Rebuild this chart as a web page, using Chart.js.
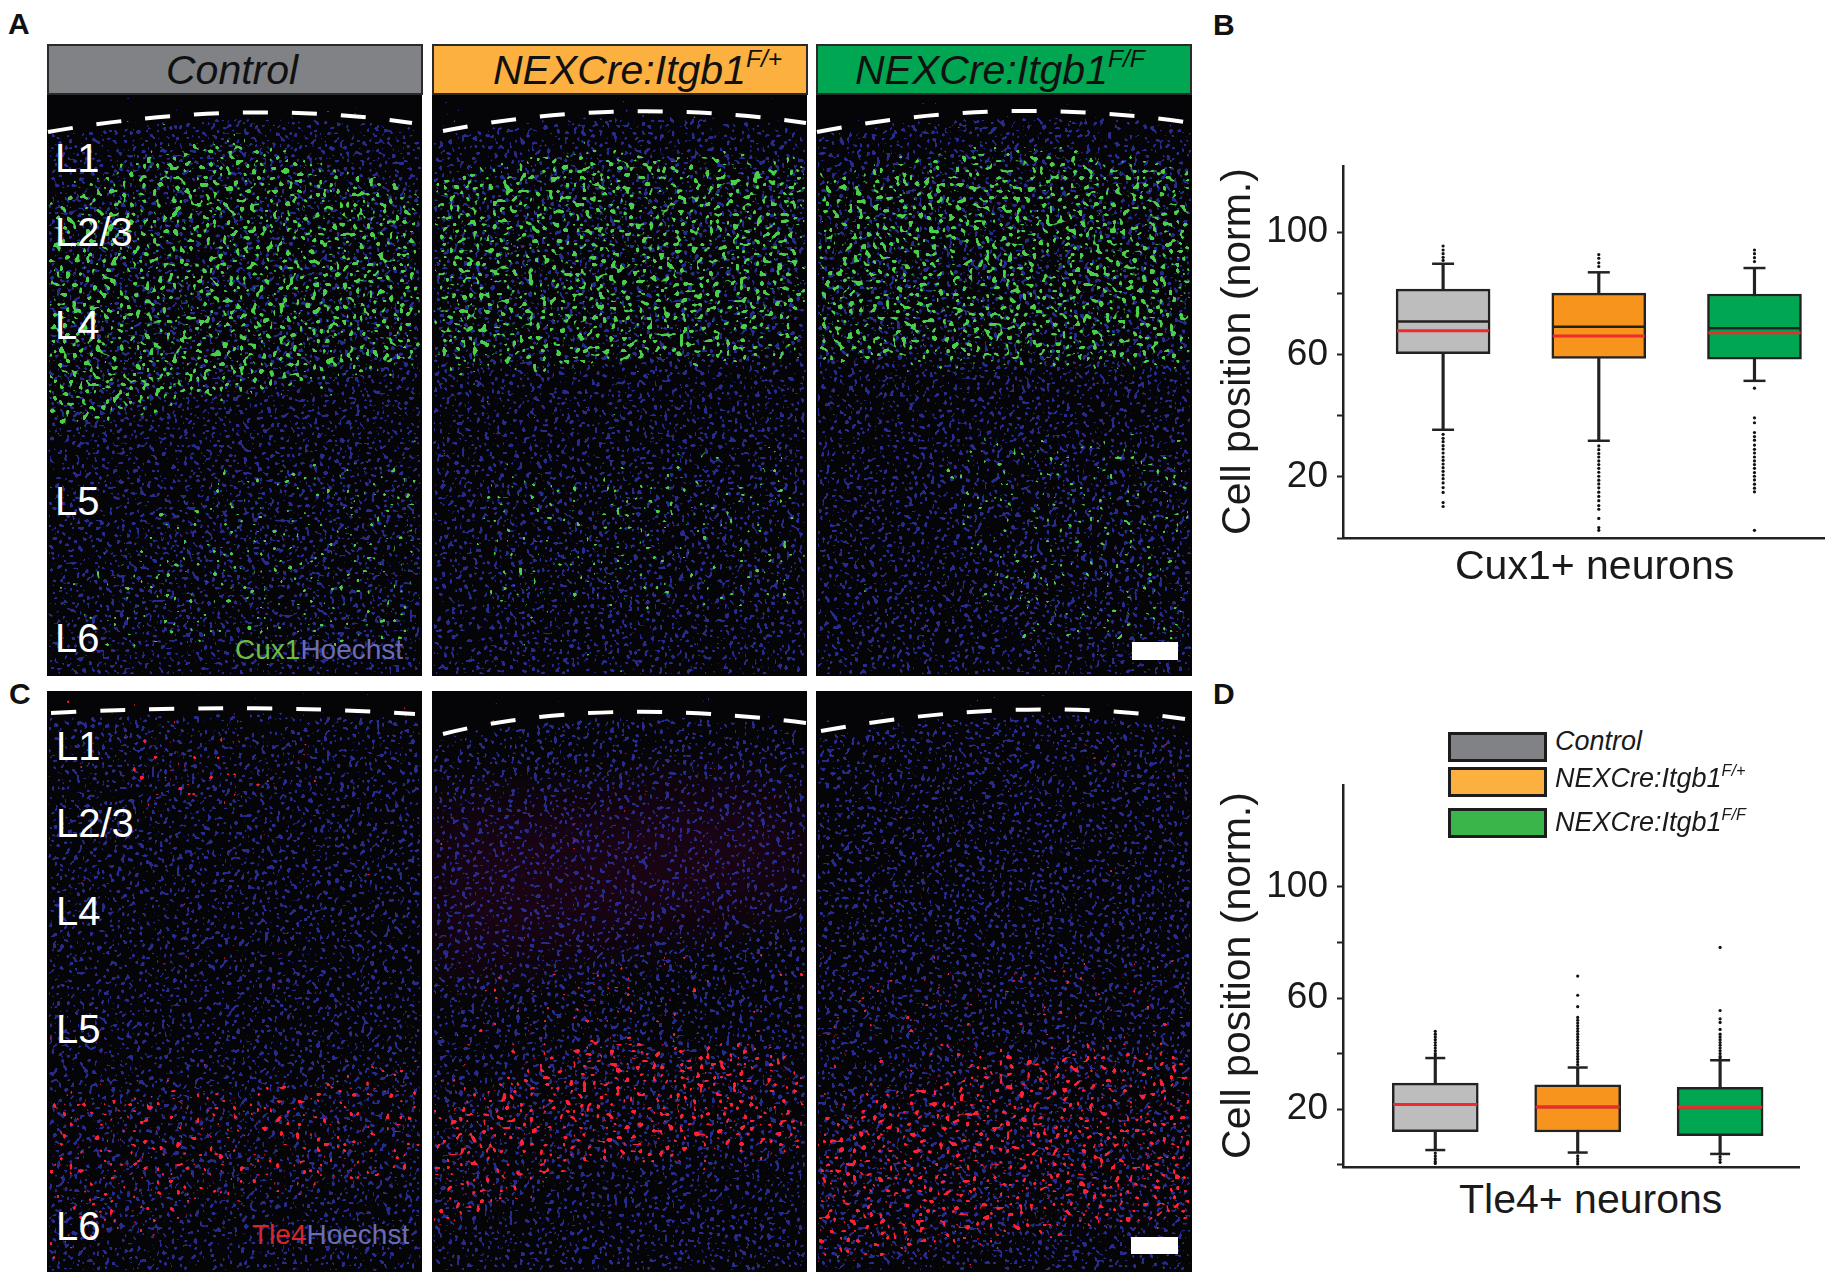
<!DOCTYPE html>
<html>
<head>
<meta charset="utf-8">
<script src="https://cdn.jsdelivr.net/npm/chart.js@4"></script>
<style>
  html, body { margin: 0; background: #fff; }
  body { position: relative; width: 1831px; height: 1279px; overflow: hidden; font-family: "Liberation Sans", Arial, sans-serif; color: #1a1a1a; }
  .abs { position: absolute; white-space: nowrap; line-height: 1; }
  .letter { font-size: 30px; font-weight: bold; color: #111; }
  .head { position: absolute; box-sizing: border-box; top: 44px; height: 51px; width: 376px; border: 2.5px solid #2a2a2a; }
  .headtext { font-size: 41px; font-style: italic; color: #111; }
  .headtext sup, .leg sup { font-size: 60%; line-height: 0; vertical-align: baseline; position: relative; top: -0.69em; }
  .layer { font-size: 40px; color: #fff; }
  .stain { font-size: 28px; }
  .xname { font-size: 41px; color: #1a1a1a; }
  .leg { font-size: 27px; font-style: italic; color: #1a1a1a; }
  .swatch { position: absolute; box-sizing: border-box; left: 1448px; width: 99px; height: 30px; border: 3px solid #1c1c1c; }
  svg.mg { position: absolute; display: block; }
  canvas { position: absolute; }
</style>
</head>
<body>
<canvas id="chartB" width="625" height="380" style="left:1200px;top:165px"></canvas>
<canvas id="chartD" width="600" height="390" style="left:1200px;top:784px"></canvas>
<script>
const categories = ["Control", "NEXCre:Itgb1 F/+", "NEXCre:Itgb1 F/F"];
const groupPos = [1, 2, 3];
const yTicks = [0, 20, 40, 60, 80, 100];
const yTickLabels = ["", "20", "", "60", "", "100"];

const cuxQ1 = [60.3, 58.7, 58.5];
const cuxQ3 = [81.4, 80.1, 79.8];
const cuxMedian = [70.8, 69.1, 68.6];
const cuxMean = [67.8, 66.1, 67.1];
const cuxWhiskerLow = [35.4, 31.8, 51.4];
const cuxWhiskerHigh = [89.7, 86.9, 88.3];
const cuxOutliers = [
  [95.5, 94.2, 93, 91.8, 90.8, 33.9, 32.6, 31.5, 30.2, 29.1, 27.8, 26.5, 25.4, 24.2, 23, 21.8, 20.6, 19.4, 18, 16.5, 14.9, 11.6, 10.3],
  [92.7, 91.5, 90, 88.8, 30.1, 28.9, 27.6, 26.5, 25.2, 24, 22.8, 21.5, 20.2, 18.9, 17.7, 16.4, 15, 13.6, 12.2, 10.6, 9.4, 6.4, 3.4, 2.5],
  [94.2, 93, 91.7, 90.4, 49, 39.3, 37.7, 34.5, 33.2, 32, 30.4, 29, 27.8, 26.5, 25.2, 24, 22.8, 21.4, 20.2, 19, 17.6, 16.3, 15.1, 2.5]
];

const tleQ1 = [11.9, 11.8, 10.5];
const tleQ3 = [29.4, 28.8, 27.9];
const tleMedian = [21.7, 20.8, 20.7];
const tleMean = [21.7, 20.8, 20.7];
const tleWhiskerLow = [5.3, 4.4, 3.9];
const tleWhiskerHigh = [38.4, 35, 37.6];
const tleOutliers = [
  [48, 47, 46, 45, 44, 43, 42, 41, 40, 39.2, 4.2, 3.2, 2.2, 1.2, 0.5],
  [67.9, 61, 56.9, 53, 52, 51, 50, 49, 48, 47, 46, 45, 44, 43, 42, 41, 40, 39, 38, 37, 36, 3.2, 2.2, 1.2, 0.3],
  [78.2, 55.5, 52.5, 51.2, 48.7, 47, 46, 45, 44, 43, 42, 41, 40, 39, 38.4, 2.9, 1.9, 0.9]
];

const groupFill = ["#bdbdbd", "#f7941e", "#00a651"];
const inkColor = "#222222";

function boxChart(id, cfg) {
  const outlierPoints = cfg.outliers.flatMap((vals, i) => vals.map(v => ({ x: groupPos[i], y: v })));
  const marks = (vals) => vals.map((v, i) => ({ x: groupPos[i], y: v }));
  const spans = (lo, hi) => lo.map((v, i) => ({ x: groupPos[i], y: [v, hi[i]] }));
  const tick = (data, radius, color, width, order) => ({
    type: "line", showLine: false, data: data, order: order,
    pointStyle: "line", pointRadius: radius, pointHoverRadius: radius,
    pointBorderColor: color, pointBorderWidth: width
  });
  return new Chart(document.getElementById(id), {
    data: {
      datasets: [
        { type: "bar", data: spans(cfg.q1, cfg.q3), order: 4, grouped: false, barThickness: cfg.boxWidth,
          backgroundColor: groupFill, borderColor: inkColor, borderWidth: 2.5, borderSkipped: false },
        { type: "bar", data: spans(cfg.low, cfg.high), order: 5, grouped: false, barThickness: 2.5,
          backgroundColor: inkColor },
        tick(marks(cfg.high), cfg.capSize, inkColor, 2.5, 3),
        tick(marks(cfg.low), cfg.capSize, inkColor, 2.5, 3),
        tick(marks(cfg.median), cfg.boxWidth / 2 - 1, inkColor, 2.5, 2),
        tick(marks(cfg.mean), cfg.boxWidth / 2 - 1, "#ee2a2e", 3, 1),
        { type: "line", showLine: false, data: outlierPoints, order: 6,
          pointRadius: 1.6, pointBackgroundColor: "#111", pointBorderWidth: 0 }
      ]
    },
    options: {
      responsive: false,
      animation: false,
      clip: false,
      layout: { autoPadding: false, padding: { top: 0, bottom: cfg.bottomPad, left: 0, right: 0 } },
      plugins: { legend: { display: false }, tooltip: { enabled: false } },
      scales: {
        x: {
          type: "linear", min: cfg.xMin, max: cfg.xMax, offset: false,
          grid: { display: false },
          ticks: { display: false },
          border: { display: true, width: 2.5, color: inkColor },
          afterFit: (s) => { s.height = 2; }
        },
        y: {
          type: "linear", min: cfg.yMin, max: cfg.yMax,
          afterBuildTicks: (s) => { s.ticks = yTicks.map(v => ({ value: v })); },
          grid: { drawOnChartArea: false, tickLength: 6, tickColor: inkColor, tickWidth: 2 },
          border: { display: true, width: 2.5, color: inkColor },
          ticks: {
            autoSkip: false, padding: 9, color: "#1a1a1a",
            font: { family: "Liberation Sans", size: 37 },
            callback: (value, index) => yTickLabels[index]
          },
          title: {
            display: true, text: "Cell position (norm.)", color: "#1a1a1a",
            font: { family: "Liberation Sans", size: 41 },
            padding: { top: 14, bottom: 0 }
          },
          // keep the plot box where the figure has it: no room reserved for half a tick label
          afterFit: (s) => { s.width = 143; s.paddingTop = 0; s.paddingBottom = 0; }
        }
      }
    }
  });
}

boxChart("chartB", {
  q1: cuxQ1, q3: cuxQ3, median: cuxMedian, mean: cuxMean, low: cuxWhiskerLow, high: cuxWhiskerHigh, outliers: cuxOutliers,
  boxWidth: 94, capSize: 11, xMin: 0.357, xMax: 3.453, yMin: 0, yMax: 122, bottomPad: 5
});
boxChart("chartD", {
  q1: tleQ1, q3: tleQ3, median: tleMedian, mean: tleMean, low: tleWhiskerLow, high: tleWhiskerHigh, outliers: tleOutliers,
  boxWidth: 86, capSize: 10, xMin: 0.352, xMax: 3.561, yMin: -0.8, yMax: 137, bottomPad: 5
});

// page furniture: headers, labels, legend
const columns = [47, 432, 816];
const headColors = ["#808285", "#fbb040", "#00a651"];
const headTextX = [166, 493, 855];
const legendColors = ["#808285", "#fbb040", "#39b54a"];
const legendTop = [732, 767, 808];
const geno = (sup) => `NEXCre:Itgb1<sup>${sup}</sup>`;
const headText = ["Control", geno("F/+"), geno("F/F")];

function addText(cls, html, left, baseline, size, extra) {
  const el = document.createElement("div");
  el.className = "abs " + cls;
  el.innerHTML = html;
  el.style.left = left + "px";
  el.style.top = (baseline - size * 0.855) + "px";
  if (extra) el.style.cssText += extra;
  document.body.appendChild(el);
}

columns.forEach((x, i) => {
  const h = document.createElement("div");
  h.className = "head";
  h.style.left = x + "px";
  h.style.background = headColors[i];
  document.body.appendChild(h);
  addText("headtext", headText[i], headTextX[i], 85, 41);
});

// micrographs: speckle is a picture texture, thresholded noise over a hand-drawn density map
const hoechstBlue = "#262b8c";
const panels = [
  { x: 47, y: 95, w: 375, h: 581, seed: 3, arc: [48, 132, 241, 98, 412, 123],
    green: [[0.95, "47,200 150,150 240,135 330,165 422,185 422,372 300,385 150,410 47,440"],
            [0.48, "210,470 422,445 422,650 100,650 47,580"]] },
  { x: 432, y: 95, w: 375, h: 581, seed: 11, arc: [443, 131, 619, 96, 806, 123],
    green: [[0.95, "432,180 560,150 807,155 807,360 650,365 432,375"],
            [0.48, "480,470 807,440 807,610 480,610"]] },
  { x: 816, y: 95, w: 376, h: 581, seed: 23, arc: [817, 132, 1004, 95, 1191, 123],
    green: [[0.95, "816,175 1000,145 1192,165 1192,368 1000,365 816,365"],
            [0.48, "920,440 1192,430 1192,650 1000,650"]] },
  { x: 47, y: 691, w: 375, h: 581, seed: 31, arc: [51, 713, 245, 703, 415, 714],
    red: [[0.4, "100,730 300,725 320,810 130,810"],
          [0.65, "47,1086 234,1086 422,1051 422,1180 234,1203 47,1261"]] },
  { x: 432, y: 691, w: 375, h: 581, seed: 43, arc: [443, 734, 593, 696, 806, 723], haze: "432,800 560,800 700,780 807,800 807,900 560,960 432,980",
    red: [[0.8, "432,1120 584,1040 807,1051 807,1156 584,1168 432,1240"],
          [0.35, "432,980 807,950 807,1040 432,1120"]] },
  { x: 816, y: 691, w: 376, h: 581, seed: 59, arc: [821, 731, 1016, 695, 1185, 719],
    red: [[0.8, "816,1120 993,1057 1192,1051 1192,1226 1028,1238 816,1267"],
          [0.35, "816,980 1192,950 1192,1050 816,1120"]] }
];

function speckleFilter(id, p, color, freq, soften, gain, cut, blur, sharp, seedAdd) {
  return `<filter id="${id}" filterUnits="userSpaceOnUse" x="${p.x}" y="${p.y}" width="${p.w}" height="${p.h}" color-interpolation-filters="sRGB">
    <feTurbulence type="fractalNoise" baseFrequency="${freq}" numOctaves="1" seed="${p.seed + seedAdd}" result="n"/>
    <feColorMatrix in="n" type="matrix" values="0 0 0 0 0 0 0 0 0 0 0 0 0 0 0 1 0 0 0 0"/>
    <feGaussianBlur stdDeviation="${soften}" result="na"/>
    <feGaussianBlur in="SourceAlpha" stdDeviation="${blur}" result="d"/>
    <feComposite in="na" in2="d" operator="arithmetic" k1="0" k2="1" k3="${gain}" k4="${cut}" result="s"/>
    <feComponentTransfer in="s" result="dots"><feFuncA type="linear" slope="${sharp}" intercept="0"/></feComponentTransfer>
    <feFlood flood-color="${color}"/>
    <feComposite in2="dots" operator="in"/>
  </filter>`;
}

panels.forEach((p, i) => {
  const [x0, y0, cx, cy, x1, y1] = p.arc;
  const arcPath = `M${x0} ${y0} Q${cx} ${cy} ${x1} ${y1}`;
  const blueArea = `${p.x},${Math.max(y0, y1) + 6} ${cx},${cy + 26} ${p.x + p.w},${Math.max(y0, y1) + 6} ${p.x + p.w},${p.y + p.h} ${p.x},${p.y + p.h}`;
  const shapes = (list) => list.map(([lvl, pts]) => `<polygon points="${pts}" fill="#fff" fill-opacity="${lvl}"/>`).join("");
  const top = p.green ? "#48d04a" : "#ff2038";
  const list = p.green || p.red;
  document.body.insertAdjacentHTML("beforeend", `
    <svg class="mg" style="left:${p.x}px;top:${p.y}px" width="${p.w}" height="${p.h}" viewBox="${p.x} ${p.y} ${p.w} ${p.h}">
      <defs>
        ${speckleFilter("blue" + i, p, hoechstBlue, 0.4, 1.2, 0.08, -0.612, 2, 80, 100)}
        ${speckleFilter("top" + i, p, top, 0.3, 1.7, 0.09, -0.625, 7, 60, 0)}
        <filter id="soft${i}" filterUnits="userSpaceOnUse" x="${p.x}" y="${p.y}" width="${p.w}" height="${p.h}"><feGaussianBlur stdDeviation="30"/></filter>
      </defs>
      <rect x="${p.x}" y="${p.y}" width="${p.w}" height="${p.h}" fill="#050508"/>
      ${p.haze ? `<polygon points="${p.haze}" fill="#5a1030" fill-opacity="0.22" filter="url(#soft${i})"/>` : ""}
      <g filter="url(#blue${i})">
        <polygon points="${blueArea}" fill="#fff" fill-opacity="0.88"/>
        <path d="M${x0} ${y0 + 10} Q${cx} ${cy + 10} ${x1} ${y1 + 10}" fill="none" stroke="#fff" stroke-width="9"/>
      </g>
      <g filter="url(#top${i})">${shapes(list)}</g>
      <path d="${arcPath}" fill="none" stroke="#fff" stroke-width="4" stroke-dasharray="25 24"/>
    </svg>`);
});

// scale bars
[[1132, 642, 46, 18], [1131, 1237, 47, 17]].forEach(([l, t, w, h]) => {
  document.body.insertAdjacentHTML("beforeend", `<div style="position:absolute;left:${l}px;top:${t}px;width:${w}px;height:${h}px;background:#fff"></div>`);
});

[["A", 8, 35], ["B", 1213, 36], ["C", 9, 705], ["D", 1213, 705]].forEach(([t, x, b]) => addText("letter", t, x, b, 30));

const layerNames = ["L1", "L2/3", "L4", "L5", "L6"];
[172, 246, 339, 515, 652].forEach((b, i) => addText("layer", layerNames[i], 55, b, 40));
[760, 837, 925, 1043, 1240].forEach((b, i) => addText("layer", layerNames[i], 56, b, 40));

addText("stain", `<span style="color:#6cbd45">Cux1</span><span style="color:#6a6cb4">Hoechst</span>`, 235, 660, 28);
addText("stain", `<span style="color:#d8262c">Tle4</span><span style="color:#6a6cb4">Hoechst</span>`, 252, 1245, 28);

addText("xname", "Cux1+ neurons", 1455, 580, 41);
addText("xname", "Tle4+ neurons", 1459, 1214, 41);

legendTop.forEach((t, i) => {
  document.body.insertAdjacentHTML("beforeend", `<div class="swatch" style="top:${t}px;background:${legendColors[i]}"></div>`);
});
addText("leg", "Control", 1555, 751, 27);
addText("leg", geno("F/+"), 1555, 788, 27);
addText("leg", geno("F/F"), 1555, 832, 27);
</script>
</body>
</html>
